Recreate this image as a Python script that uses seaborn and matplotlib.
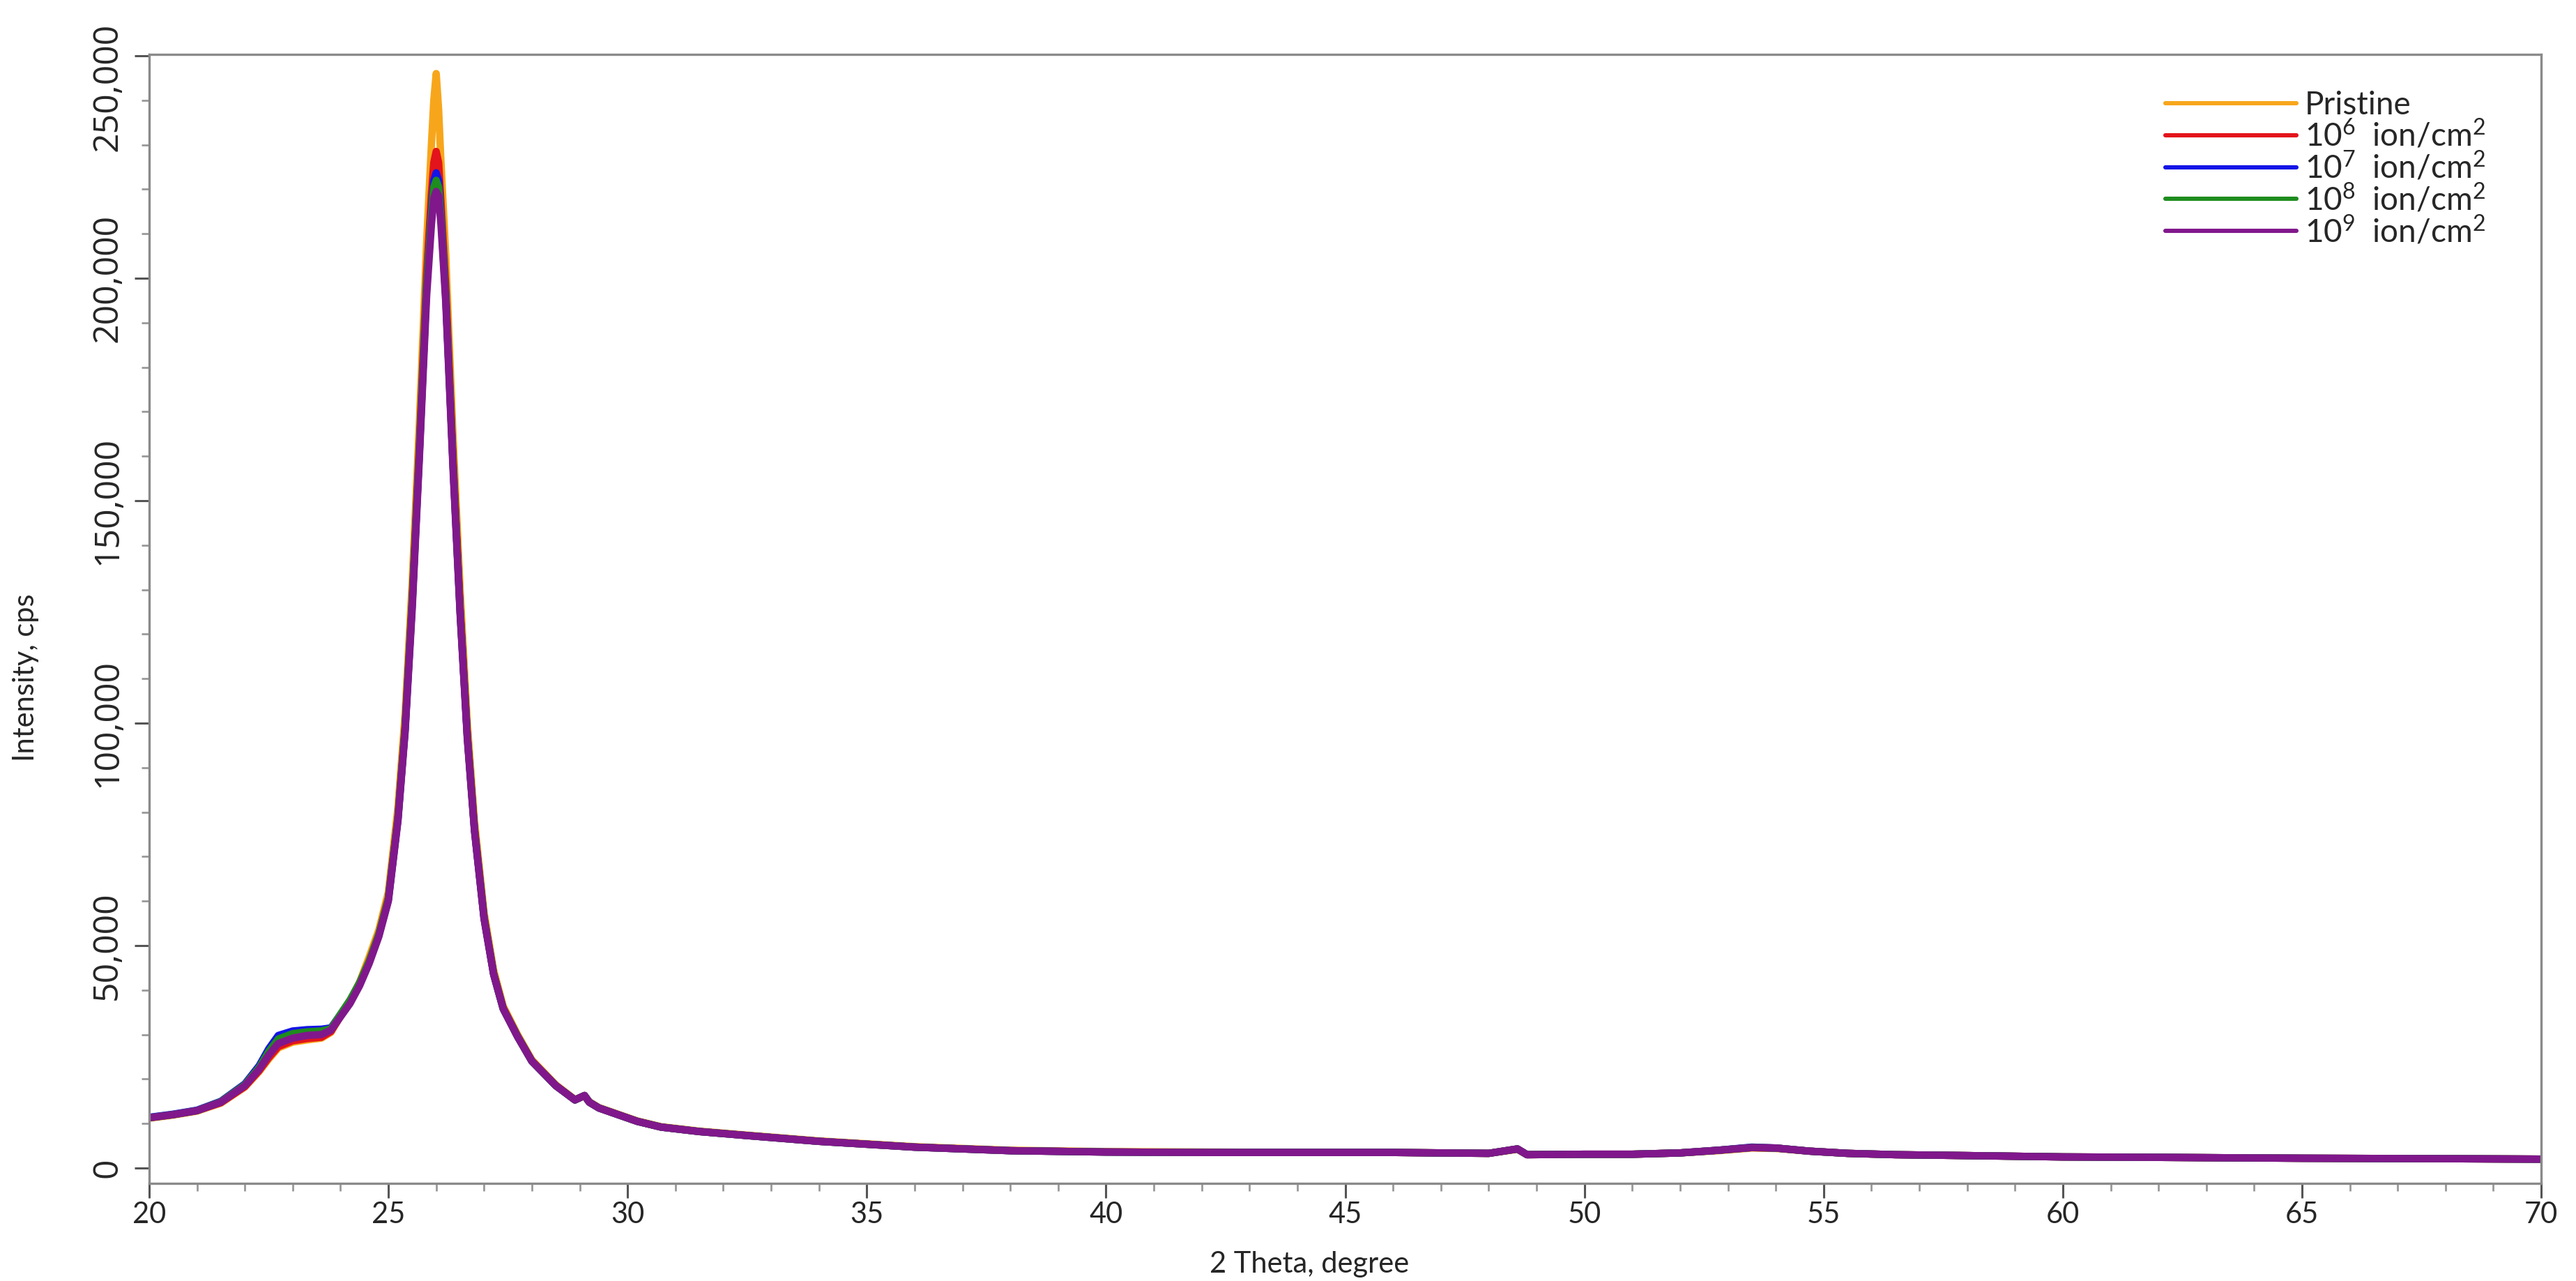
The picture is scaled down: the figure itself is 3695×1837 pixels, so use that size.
import matplotlib
matplotlib.use('Agg')
import matplotlib.pyplot as plt
import matplotlib.ticker as mticker
import seaborn as sns
import pandas as pd

# 2 theta positions (degree)
two_theta = [20.0, 20.5, 21.0, 21.5, 22.0, 22.3, 22.5, 22.7, 23.0, 23.3, 23.6, 23.8,
             24.0, 24.2, 24.4, 24.6, 24.8, 25.0, 25.2, 25.35, 25.5, 25.65, 25.8, 25.9,
             25.95, 26.0, 26.05, 26.1, 26.2, 26.35, 26.5, 26.65, 26.8, 27.0, 27.2, 27.4,
             27.7, 28.0, 28.5, 28.9, 29.1, 29.2, 29.4, 29.8, 30.2, 30.7, 31.5, 32.5,
             34.0, 36.0, 38.0, 40.0, 42.0, 44.0, 46.0, 48.0, 48.6, 48.8, 50.0, 51.0,
             52.0, 52.8, 53.5, 54.0, 54.7, 55.5, 56.5, 58.0, 60.0, 62.0, 65.0, 68.0, 70.0]

# intensity (cps) for each sample
pristine = [11200, 11900, 12800, 14600, 18200, 21700, 24500, 27000, 28300, 28800, 29200, 30500,
            34200, 37400, 41800, 47500, 53500, 62000, 81000, 102000, 132000, 168000, 208000, 230000,
            240000, 246000, 238000, 226000, 205000, 165000, 130000, 100000, 78000, 57500, 44500, 36400,
            30000, 24300, 18700, 15400, 16200, 14900, 13600, 12100, 10600, 9300, 8300, 7400,
            6100, 4800, 4000, 3700, 3600, 3500, 3500, 3300, 4200, 3000, 3100, 3100,
            3400, 3900, 4500, 4400, 3800, 3300, 3000, 2800, 2500, 2400, 2200, 2100, 2000]
ion_1e6 = [11300, 12000, 12900, 14700, 18300, 21900, 24800, 27300, 28600, 29100, 29400, 30700,
           34100, 37200, 41500, 46600, 52600, 60800, 79000, 99500, 128500, 163000, 201000, 219000,
           226000, 228500, 226000, 217000, 198000, 160000, 126000, 97500, 76500, 56500, 43800, 36000,
           29700, 24100, 18600, 15300, 16300, 14800, 13500, 12000, 10500, 9200, 8200, 7300,
           6000, 4700, 3900, 3600, 3500, 3500, 3500, 3300, 4300, 3000, 3100, 3100,
           3400, 4000, 4600, 4500, 3800, 3300, 3000, 2800, 2500, 2400, 2200, 2100, 2000]
ion_1e7 = [11400, 12100, 13000, 15000, 18900, 23000, 26800, 29800, 30800, 31100, 31200, 31500,
           34500, 37500, 41600, 46300, 52300, 60300, 78300, 98500, 127000, 161000, 198000, 215000,
           222000, 223700, 222000, 214500, 196000, 158500, 125000, 97000, 76000, 56200, 43600, 35800,
           29600, 24000, 18500, 15300, 16300, 14800, 13500, 12000, 10500, 9200, 8200, 7300,
           6000, 4700, 3900, 3600, 3500, 3500, 3500, 3300, 4300, 3000, 3100, 3100,
           3400, 4000, 4700, 4500, 3800, 3300, 3000, 2800, 2500, 2400, 2200, 2100, 2000]
ion_1e8 = [11300, 12000, 12900, 14900, 18700, 22600, 26200, 29000, 30200, 30600, 30800, 31300,
           34600, 37800, 41700, 46500, 52500, 60500, 78500, 98800, 127500, 161500, 198500, 214000,
           220500, 222000, 220500, 213500, 195500, 158500, 125000, 97000, 76000, 56200, 43600, 35800,
           29600, 24000, 18500, 15300, 16300, 14800, 13500, 12000, 10500, 9200, 8200, 7300,
           6000, 4700, 3900, 3600, 3500, 3500, 3500, 3300, 4300, 3000, 3100, 3100,
           3400, 4000, 4600, 4500, 3800, 3300, 3000, 2800, 2500, 2400, 2200, 2100, 2000]
ion_1e9 = [11300, 12000, 12900, 14800, 18500, 22200, 25400, 28000, 29200, 29800, 30000, 31000,
           34000, 37000, 41000, 46000, 52000, 60000, 78000, 98000, 126000, 160000, 196000, 212000,
           218000, 219500, 218500, 212000, 194500, 157500, 124500, 96500, 75800, 56000, 43500, 35800,
           29500, 24000, 18500, 15300, 16300, 14800, 13500, 12000, 10500, 9200, 8200, 7300,
           6000, 4700, 3900, 3600, 3500, 3500, 3500, 3300, 4300, 3000, 3100, 3100,
           3400, 4000, 4600, 4500, 3800, 3300, 3000, 2800, 2500, 2400, 2200, 2100, 2000]

labels = ['Pristine', '10$^6$  ion/cm$^2$', '10$^7$  ion/cm$^2$',
          '10$^8$  ion/cm$^2$', '10$^9$  ion/cm$^2$']
colors = ['#F7A61B', '#E3141B', '#1414E6', '#1E8C1E', '#80188C']

# long-form table for seaborn
frames = []
for lab, ys in zip(labels, [pristine, ion_1e6, ion_1e7, ion_1e8, ion_1e9]):
    frames.append(pd.DataFrame({'2theta': two_theta, 'Intensity': ys, 'Sample': lab}))
df = pd.concat(frames, ignore_index=True)

sns.set_theme(style='ticks')
plt.rcParams['font.family'] = ['Lato', 'DejaVu Sans']
plt.rcParams['mathtext.fontset'] = 'custom'
plt.rcParams['mathtext.rm'] = 'Lato'
plt.rcParams['mathtext.it'] = 'Lato:italic'
plt.rcParams['mathtext.bf'] = 'Lato:bold'

fig = plt.figure(figsize=(18.475, 9.185), dpi=200)
ax = fig.add_axes([0.0579, 0.0762, 0.9286, 0.8813])

sns.lineplot(data=df, x='2theta', y='Intensity', hue='Sample', hue_order=labels,
             palette=colors, estimator=None, sort=False, linewidth=3.8, ax=ax, legend=False)

ax.set_xlim(20, 70)
ax.set_ylim(-3450, 250300)

ax.xaxis.set_major_locator(mticker.MultipleLocator(5))
ax.xaxis.set_minor_locator(mticker.MultipleLocator(1))
ax.yaxis.set_major_locator(mticker.MultipleLocator(50000))
ax.yaxis.set_minor_locator(mticker.MultipleLocator(10000))
# the 250,000 label is drawn separately a bit lower, as in the original
ax.yaxis.set_major_formatter(mticker.FuncFormatter(
    lambda v, p: '' if v > 240000 else f'{int(v):,}'))

for s in ax.spines.values():
    s.set_color('#8a8a8a')
    s.set_linewidth(1.2)

ax.tick_params(axis='both', which='major', length=7.5, width=1.1, color='#555555', labelsize=15)
ax.tick_params(axis='both', which='minor', length=4, width=1.0, color='#999999')
ax.tick_params(axis='x', which='major', pad=2)
ax.tick_params(axis='y', which='major', pad=5)
for t in ax.get_yticklabels():
    t.set_rotation(90)
    t.set_va('center')
    t.set_family(['Open Sans', 'DejaVu Sans'])
    t.set_fontsize(18)

ax.annotate('250,000', xy=(0, 250000), xycoords=('axes fraction', 'data'),
            xytext=(-12.5, -16), textcoords='offset points', rotation=90,
            ha='right', va='center', fontsize=18, family=['Open Sans', 'DejaVu Sans'],
            annotation_clip=False)

ax.set_xlabel('2 Theta, degree', fontsize=15, labelpad=0)
ax.xaxis.set_label_coords(0.485, -0.06)
ax.set_ylabel('Intensity, cps', fontsize=15)
ax.yaxis.set_label_coords(-0.046, 0.448)

handles = [plt.Line2D([], [], color=c, linewidth=2.2) for c in colors]
ax.legend(handles, labels, loc='upper left', bbox_to_anchor=(0.843, 0.968),
          frameon=False, fontsize=16.5, handlelength=4.1, handletextpad=0.25,
          labelspacing=-0.04, borderpad=0, borderaxespad=0)

fig.savefig('out.png', dpi=200, facecolor='white')
